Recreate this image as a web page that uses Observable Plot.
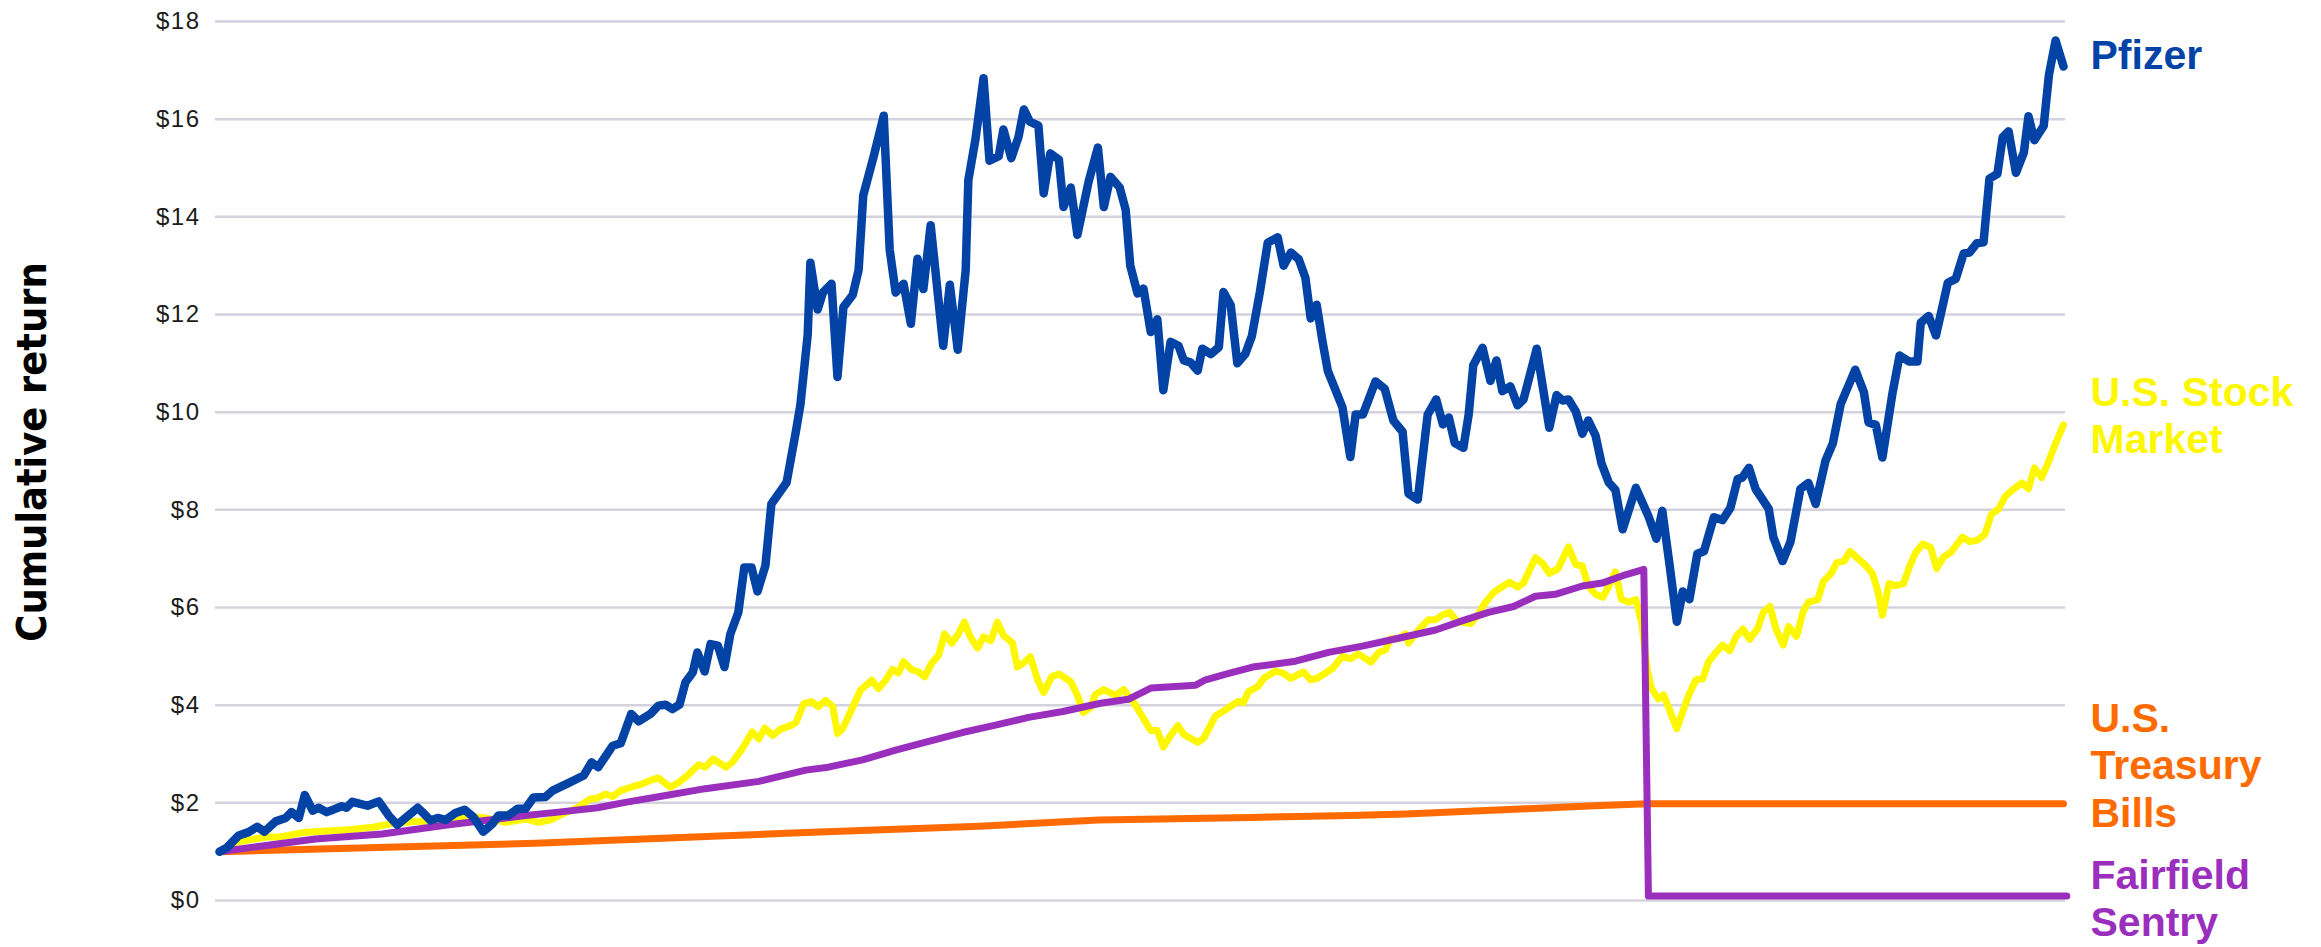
<!DOCTYPE html>
<html>
<head>
<meta charset="utf-8">
<script src="https://cdn.jsdelivr.net/npm/d3@7"></script>
<script src="https://cdn.jsdelivr.net/npm/@observablehq/plot@0.6"></script>
<style>
  html, body { margin: 0; padding: 0; background: #fff; }
  #chart svg { display: block; }
</style>
</head>
<body>
<div id="chart"></div>
<script>
// x = months since Dec 1990, y = cumulative value of $1
const pfizer = [[0,1.00],[1.1,1.08],[2.9,1.33],[4.4,1.40],[5.7,1.51],[6.8,1.41],[8.5,1.62],[10.0,1.69],[10.9,1.81],[12.0,1.69],[12.9,2.16],[14.1,1.84],[15.0,1.90],[16.2,1.81],[17.2,1.86],[18.5,1.93],[19.2,1.90],[20.1,2.02],[21.0,1.99],[22.4,1.94],[24.1,2.03],[25.6,1.74],[26.9,1.55],[28.4,1.72],[30.0,1.90],[31.0,1.77],[31.9,1.64],[33.0,1.69],[34.2,1.65],[35.7,1.79],[37.1,1.86],[38.4,1.71],[39.9,1.41],[41.3,1.57],[42.2,1.74],[43.7,1.74],[45.1,1.88],[46.3,1.88],[47.5,2.11],[49.3,2.12],[50.4,2.25],[52.7,2.40],[55.1,2.56],[56.3,2.83],[57.3,2.73],[59.5,3.17],[60.7,3.22],[62.3,3.82],[63.4,3.67],[65.2,3.82],[66.4,3.99],[67.5,4.01],[68.5,3.92],[69.6,4.01],[70.5,4.47],[71.6,4.67],[72.3,5.08],[73.4,4.69],[74.3,5.25],[75.4,5.22],[76.4,4.78],[77.3,5.46],[78.5,5.90],[79.4,6.82],[80.5,6.82],[81.4,6.33],[82.6,6.86],[83.5,8.12],[85.8,8.56],[87.2,9.6],[87.9,10.16],[89.0,11.59],[89.4,13.06],[90.5,12.10],[91.3,12.45],[92.6,12.63],[93.5,10.72],[94.4,12.15],[95.8,12.40],[96.7,12.91],[97.4,14.44],[99.0,15.25],[100.5,16.07],[101.4,13.33],[102.3,12.45],[103.5,12.63],[104.6,11.81],[105.6,13.14],[106.5,12.52],[107.6,13.83],[109.5,11.36],[110.5,12.61],[111.7,11.28],[112.9,12.91],[113.3,14.75],[114.4,15.61],[115.6,16.84],[116.5,15.15],[117.9,15.24],[118.6,15.79],[119.8,15.20],[120.9,15.64],[121.7,16.20],[122.6,15.95],[123.9,15.87],[124.7,14.48],[125.7,15.30],[127.0,15.17],[127.7,14.20],[128.8,14.60],[129.8,13.63],[131.5,14.72],[132.9,15.42],[133.8,14.20],[134.8,14.82],[136.2,14.60],[137.1,14.15],[137.8,13.00],[138.9,12.43],[139.8,12.53],[140.9,11.64],[141.9,11.90],[142.8,10.45],[143.9,11.44],[145.1,11.36],[145.9,11.06],[146.9,11.02],[148.0,10.85],[148.7,11.30],[150.0,11.19],[151.2,11.33],[151.9,12.46],[153.0,12.19],[154.0,11.00],[155.2,11.19],[156.2,11.56],[157.4,12.45],[158.6,13.47],[160.1,13.58],[161.0,13.00],[162.1,13.27],[163.3,13.13],[164.3,12.75],[165.1,11.92],[166.0,12.20],[166.9,11.44],[167.7,10.84],[169.9,10.10],[171.1,9.08],[171.9,9.95],[173.0,9.95],[174.9,10.63],[176.3,10.48],[176.9,10.18],[177.6,9.83],[179.0,9.60],[179.9,8.33],[181.3,8.21],[182.8,9.95],[184.1,10.26],[185.1,9.75],[186.0,9.89],[186.9,9.37],[188.2,9.27],[189.0,9.95],[189.7,10.96],[191.1,11.32],[192.3,10.64],[193.2,11.06],[194.1,10.43],[195.3,10.53],[196.4,10.14],[197.3,10.26],[199.3,11.30],[201.2,9.68],[202.3,10.35],[203.2,10.24],[204.1,10.26],[205.2,10.02],[206.2,9.56],[207.1,9.83],[208.2,9.52],[209.1,8.95],[210.2,8.56],[211.2,8.41],[212.3,7.60],[214.3,8.45],[216.2,7.87],[217.4,7.41],[218.3,7.98],[219.4,6.87],[220.5,5.71],[221.4,6.33],[222.4,6.17],[223.6,7.10],[224.6,7.15],[226.1,7.85],[227.4,7.79],[228.6,8.04],[229.7,8.63],[230.4,8.66],[231.4,8.86],[232.4,8.43],[234.4,8.02],[235.1,7.44],[236.5,6.95],[237.7,7.35],[239.2,8.43],[240.4,8.55],[241.5,8.12],[243.0,9.01],[244.1,9.36],[245.3,10.17],[247.5,10.87],[248.8,10.41],[249.5,9.79],[250.6,9.74],[251.6,9.07],[253.1,10.37],[254.2,11.16],[255.6,11.04],[256.9,11.04],[257.4,11.83],[258.6,11.97],[259.7,11.57],[261.5,12.65],[262.7,12.73],[263.9,13.25],[264.8,13.27],[265.9,13.46],[266.9,13.48],[267.8,14.78],[269.0,14.88],[269.8,15.63],[270.7,15.75],[271.8,14.90],[273.0,15.32],[273.7,16.06],[274.6,15.57],[276.0,15.86],[276.8,16.91],[277.8,17.61],[279.0,17.08]];

const market = [[0,1.00],[2.4,1.19],[7.0,1.30],[9.2,1.30],[13.0,1.40],[19.5,1.45],[23.2,1.50],[26.2,1.58],[29.7,1.62],[33.4,1.63],[36.8,1.72],[39.8,1.70],[43.3,1.60],[46.3,1.67],[48.3,1.60],[50.1,1.65],[51.9,1.77],[53.9,1.88],[56.1,2.08],[57.2,2.10],[58.4,2.18],[59.5,2.13],[60.7,2.25],[62.5,2.33],[64.0,2.39],[65.2,2.46],[66.4,2.51],[68.2,2.32],[69.5,2.42],[70.8,2.56],[72.5,2.78],[73.5,2.73],[74.7,2.90],[76.6,2.73],[77.6,2.83],[79.1,3.11],[80.6,3.45],[81.6,3.31],[82.5,3.53],[83.7,3.38],[84.9,3.51],[86.4,3.58],[87.2,3.64],[88.4,4.03],[89.6,4.07],[90.6,3.97],[91.7,4.10],[92.8,3.97],[93.5,3.42],[94.3,3.52],[97.0,4.31],[98.7,4.51],[99.7,4.34],[100.8,4.51],[101.8,4.73],[102.7,4.66],[103.5,4.89],[104.7,4.73],[105.8,4.68],[106.7,4.58],[107.7,4.85],[108.8,5.02],[109.7,5.46],[110.8,5.27],[111.8,5.46],[112.7,5.70],[113.6,5.40],[114.7,5.17],[115.6,5.40],[116.7,5.32],[117.7,5.70],[118.6,5.43],[120.0,5.27],[120.7,4.78],[121.7,4.87],[122.7,4.99],[123.8,4.51],[124.7,4.26],[125.9,4.58],[127.0,4.64],[128.8,4.48],[129.8,4.20],[130.7,3.85],[131.8,3.95],[132.5,4.22],[133.8,4.32],[135.6,4.20],[136.8,4.32],[138.6,4.00],[139.7,3.75],[140.9,3.48],[141.9,3.48],[142.8,3.14],[143.9,3.38],[145.0,3.58],[145.9,3.40],[148.0,3.24],[148.9,3.32],[150.7,3.78],[151.9,3.88],[154.2,4.08],[154.9,4.05],[155.7,4.28],[157.1,4.38],[158.0,4.55],[159.8,4.70],[161.0,4.65],[162.1,4.55],[164.0,4.68],[165.1,4.52],[166.1,4.55],[168.4,4.75],[169.9,5.00],[171.1,4.95],[172.3,5.05],[174.2,4.88],[175.4,5.08],[176.4,5.13],[177.2,5.36],[178.4,5.36],[179.4,5.46],[179.9,5.27],[181.3,5.52],[182.9,5.75],[184.0,5.75],[185.1,5.85],[186.1,5.90],[187.3,5.71],[189.3,5.67],[190.3,5.83],[191.4,6.08],[192.8,6.31],[193.9,6.41],[195.2,6.52],[196.4,6.42],[197.3,6.50],[199.1,7.02],[200.2,6.90],[201.2,6.70],[202.5,6.79],[204.1,7.24],[205.2,6.88],[206.2,6.85],[207.1,6.44],[208.2,6.27],[209.3,6.21],[210.2,6.44],[211.2,6.73],[212.1,6.17],[213.2,6.11],[214.3,6.16],[215.2,5.67],[216.0,4.75],[216.6,4.36],[217.7,4.13],[218.5,4.21],[220.5,3.52],[222.3,4.21],[223.4,4.52],[224.4,4.54],[225.3,4.89],[226.3,5.06],[227.4,5.23],[228.5,5.12],[229.5,5.41],[230.5,5.56],[231.5,5.35],[232.7,5.56],[233.6,5.91],[234.6,6.02],[235.5,5.56],[236.6,5.23],[237.4,5.61],[238.6,5.41],[239.6,5.91],[240.4,6.11],[241.8,6.16],[242.7,6.54],[243.8,6.69],[244.7,6.92],[245.8,6.95],[246.7,7.15],[247.9,7.00],[249.1,6.86],[250.1,6.69],[250.9,6.34],[251.6,5.84],[252.6,6.49],[253.6,6.45],[254.8,6.49],[255.6,6.80],[256.6,7.12],[257.7,7.30],[258.9,7.23],[259.8,6.80],[260.9,7.04],[261.9,7.12],[263.7,7.44],[264.8,7.35],[266.0,7.38],[267.1,7.50],[268.1,7.91],[269.2,8.02],[270.2,8.28],[271.5,8.43],[272.7,8.55],[273.7,8.43],[274.6,8.86],[275.7,8.66],[276.8,9.01],[277.8,9.36],[279.0,9.74]];

const treasury = [[0,1.00],[47.8,1.17],[88.7,1.39],[115,1.52],[133,1.65],[156,1.70],[171,1.74],[179.5,1.77],[198,1.88],[208,1.94],[216,1.98],[279,1.98]];

const fairfield = [[0,1.00],[14.5,1.26],[24.6,1.36],[34.7,1.55],[46.3,1.74],[51.3,1.81],[57.2,1.90],[61.4,2.01],[67.5,2.15],[73.5,2.29],[81.6,2.44],[88.7,2.67],[92.1,2.73],[97.3,2.88],[102.3,3.08],[107.3,3.26],[112.4,3.44],[117.4,3.59],[122.4,3.75],[127.6,3.87],[133.3,4.04],[137.5,4.12],[140.9,4.35],[147.7,4.41],[149.2,4.52],[152.7,4.65],[156.3,4.78],[162.8,4.90],[167.8,5.08],[172.9,5.21],[178.7,5.38],[184.0,5.54],[188.1,5.73],[192.0,5.90],[195.8,6.02],[199.1,6.23],[202.1,6.27],[206.2,6.44],[209.2,6.50],[212.7,6.67],[215.5,6.78],[216.2,0.09],[279.5,0.09]];

const yTicks = [0, 2, 4, 6, 8, 10, 12, 14, 16, 18];
const seriesLabels = ["Pfizer", "U.S. Stock\nMarket", "U.S.\nTreasury\nBills", "Fairfield\nSentry"];
const labelAnchorValues = [17.03, 9.17, 1.515, -0.737];
const yTitle = "Cumulative return";

const colors = ["#0343a6", "#fdf800", "#ff6b00", "#9b2fbd"];
const lastMonth = 279;

const toRows = arr => arr.map(([m, v]) => ({month: m, value: v}));

const labelFont = "'Liberation Sans', Arial, sans-serif";
const labelMarks = seriesLabels.map((t, i) =>
  Plot.text([t], {
    x: () => lastMonth, y: () => labelAnchorValues[i], text: d => d,
    dx: 27, textAnchor: "start", lineAnchor: "bottom", lineHeight: 1.15,
    fontSize: 41, fontWeight: "bold", fontFamily: labelFont, fill: colors[i]
  })
);

const chart = Plot.plot({
  width: 2321,
  height: 947,
  marginLeft: 215,
  marginRight: 256,
  marginTop: 21,
  marginBottom: 47,
  style: { background: "#fff", fontFamily: labelFont, overflow: "visible" },
  x: { domain: [0, lastMonth], insetLeft: 4, insetRight: 2, axis: null },
  y: { domain: [0, 18], axis: null },
  marks: [
    Plot.gridY(yTicks, { stroke: "#d4d2dd", strokeOpacity: 1, strokeWidth: 2.5 }),
    Plot.axisY(yTicks, {
      tickSize: 0, tickPadding: 15, tickFormat: d => "$" + d,
      fontSize: 24, fill: "#1c1c1c", label: null
    }),
    Plot.line(toRows(treasury), { x: "month", y: "value", stroke: colors[2], strokeWidth: 7, strokeLinejoin: "round" }),
    Plot.line(toRows(market), { x: "month", y: "value", stroke: colors[1], strokeWidth: 7, strokeLinejoin: "round" }),
    Plot.line(toRows(fairfield), { x: "month", y: "value", stroke: colors[3], strokeWidth: 7, strokeLinejoin: "round" }),
    Plot.line(toRows(pfizer), { x: "month", y: "value", stroke: colors[0], strokeWidth: 8.5, strokeLinejoin: "round" }),
    ...labelMarks,
    Plot.text([yTitle], {
      frameAnchor: "left", text: d => d, rotate: -90, dx: -183, dy: -9,
      textAnchor: "middle", lineAnchor: "middle",
      fontSize: 41, fontWeight: "bold",
      fontFamily: "'DejaVu Sans Condensed', 'DejaVu Sans', sans-serif", fill: "#000"
    })
  ]
});

chart.querySelectorAll('[aria-label="y-axis tick label"] text').forEach(t => t.style.letterSpacing = "1.5px");
document.getElementById("chart").appendChild(chart);
</script>
</body>
</html>
